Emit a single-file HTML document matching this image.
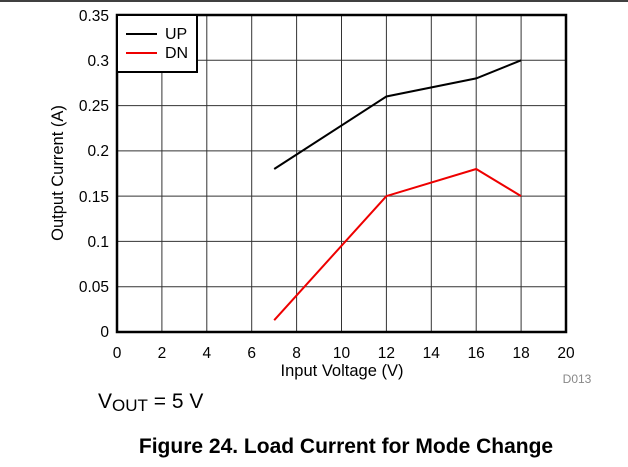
<!DOCTYPE html>
<html><head><style>body{margin:0;background:#fff}svg{display:block}</style></head><body>
<svg width="628" height="467" xmlns="http://www.w3.org/2000/svg" font-family="Liberation Sans, Arial, sans-serif">
<rect width="628" height="467" fill="#fff"/>
<line x1="0" y1="1" x2="628" y2="1" stroke="#000" stroke-width="1.5"/>
<g stroke="#333" stroke-width="1">
<line x1="161.9" y1="15" x2="161.9" y2="332"/><line x1="206.8" y1="15" x2="206.8" y2="332"/>
<line x1="251.7" y1="15" x2="251.7" y2="332"/><line x1="296.6" y1="15" x2="296.6" y2="332"/>
<line x1="341.5" y1="15" x2="341.5" y2="332"/><line x1="386.4" y1="15" x2="386.4" y2="332"/>
<line x1="431.3" y1="15" x2="431.3" y2="332"/><line x1="476.2" y1="15" x2="476.2" y2="332"/>
<line x1="521.1" y1="15" x2="521.1" y2="332"/>
<line x1="117" y1="60.3" x2="566" y2="60.3"/><line x1="117" y1="105.6" x2="566" y2="105.6"/>
<line x1="117" y1="150.9" x2="566" y2="150.9"/><line x1="117" y1="196.1" x2="566" y2="196.1"/>
<line x1="117" y1="241.4" x2="566" y2="241.4"/><line x1="117" y1="286.7" x2="566" y2="286.7"/>
</g>
<rect x="117" y="15" width="449" height="317" fill="none" stroke="#000" stroke-width="2.5"/>
<polyline points="274.2,169 386.4,96.5 476.2,78.4 521.1,60.3" fill="none" stroke="#000" stroke-width="2"/>
<polyline points="274.2,320.2 386.4,196.1 476.2,169 521.1,196.1" fill="none" stroke="#e00" stroke-width="2"/>
<rect x="117" y="15" width="80" height="57" fill="#fff" stroke="#000" stroke-width="2"/>
<line x1="126" y1="34" x2="157" y2="34" stroke="#000" stroke-width="2"/>
<line x1="126" y1="53" x2="157" y2="53" stroke="#e00" stroke-width="2"/>
<text x="165" y="39" font-size="16">UP</text><text x="165" y="58" font-size="16">DN</text>
<g font-size="15.5" text-anchor="end">
<text x="109" y="21">0.35</text><text x="109" y="66">0.3</text><text x="109" y="111">0.25</text>
<text x="109" y="156">0.2</text><text x="109" y="202">0.15</text><text x="109" y="247">0.1</text>
<text x="109" y="292">0.05</text><text x="109" y="337">0</text>
</g>
<g font-size="15.5" text-anchor="middle">
<text x="117" y="358">0</text><text x="161.9" y="358">2</text><text x="206.8" y="358">4</text>
<text x="251.7" y="358">6</text><text x="296.6" y="358">8</text><text x="341.5" y="358">10</text>
<text x="386.4" y="358">12</text><text x="431.3" y="358">14</text><text x="476.2" y="358">16</text>
<text x="521.1" y="358">18</text><text x="566" y="358">20</text>
</g>
<text x="342" y="376" font-size="16.5" text-anchor="middle">Input Voltage (V)</text>
<text transform="translate(63,173) rotate(-90)" font-size="16.5" text-anchor="middle">Output Current (A)</text>
<text x="577" y="383" font-size="12" fill="#888" text-anchor="middle">D013</text>
<text x="98" y="408" font-size="21">V<tspan font-size="17" dy="3">OUT</tspan><tspan dy="-3"> = 5 V</tspan></text>
<text x="346" y="453" font-size="21" font-weight="bold" text-anchor="middle">Figure 24. Load Current for Mode Change</text>
</svg>
</body></html>
